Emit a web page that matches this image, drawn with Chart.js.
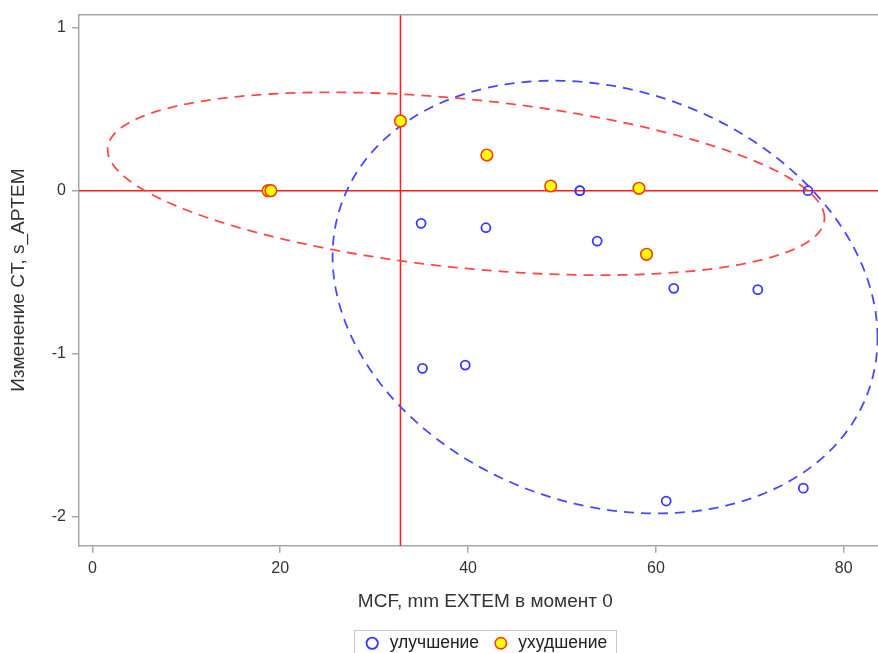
<!DOCTYPE html>
<html>
<head>
<meta charset="utf-8">
<script src="https://cdn.jsdelivr.net/npm/chart.js"></script>
<style>
  html, body { margin: 0; padding: 0; background: #fff; overflow: hidden; width: 878px; height: 653px; }
  /* the source plot is cut at the right window edge, so the canvas runs past it */
  #wrap { width: 899px; height: 653px; position: relative; }
</style>
</head>
<body>
<div id="wrap"><canvas id="chart"></canvas></div>
<script>
// --- data ---
// улучшение (blue open circles); the point at (51.9, 0) is doubled
const improveX = [35.0, 41.9, 51.9, 51.9, 53.75, 61.9, 70.85, 76.2, 35.15, 39.7, 61.1, 75.7];
const improveY = [-0.20, -0.227, 0, 0, -0.309, -0.599, -0.607, 0, -1.09, -1.07, -1.904, -1.825];
// ухудшение (yellow filled circles)
const worsenX = [18.7, 19.0, 32.8, 42.0, 48.8, 58.2, 59.0];
const worsenY = [0, 0, 0.428, 0.219, 0.029, 0.015, -0.39];

const xTicks = [0, 20, 40, 60, 80];
const yTicks = [-2, -1, 0, 1];
const refX = 32.8;   // vertical reference line
const refY = 0;      // horizontal reference line
const ellipseAlpha = 0.25;  // prediction ellipse level

Chart.defaults.font.family = '"Liberation Sans", Arial, sans-serif';
Chart.defaults.color = '#333';

function zip(xs, ys) {
  return xs.map((x, i) => ({ x: x, y: ys[i] }));
}

// prediction ellipse of a group, from its own mean and covariance
function predEllipse(xs, ys, alpha, steps) {
  const n = xs.length;
  const mx = xs.reduce((a, b) => a + b, 0) / n;
  const my = ys.reduce((a, b) => a + b, 0) / n;
  let sxx = 0, syy = 0, sxy = 0;
  for (let i = 0; i < n; i++) {
    const dx = xs[i] - mx, dy = ys[i] - my;
    sxx += dx * dx; syy += dy * dy; sxy += dx * dy;
  }
  sxx /= n - 1; syy /= n - 1; sxy /= n - 1;
  const d2 = n - 2;
  const f = d2 / 2 * (Math.pow(alpha, -2 / d2) - 1);   // F(2, n-2) quantile
  const c = Math.sqrt(2 * (n + 1) * (n - 1) / (n * (n - 2)) * f);
  const sx = Math.sqrt(sxx), sy = Math.sqrt(syy), r = sxy / (sx * sy);
  const pts = [];
  for (let k = 0; k <= steps; k++) {
    const t = 2 * Math.PI * k / steps;
    pts.push({
      x: mx + c * sx * Math.cos(t),
      y: my + c * sy * (r * Math.cos(t) + Math.sqrt(1 - r * r) * Math.sin(t))
    });
  }
  return pts;
}

const axisGray = '#a3a7ab';

const refLines = {
  id: 'refLines',
  afterUpdate(chart) {
    // centre the legend under the plot area, as in the source
    const lg = chart.legend;
    const a = chart.chartArea;
    const shift = (a.left + a.right) / 2 - (lg.left + lg.right) / 2;
    lg.left += shift; lg.right += shift;
    lg.legendHitBoxes.forEach(h => { h.left += shift; });
  },
  beforeDatasetsDraw(chart) {
    const { ctx, chartArea: a, scales } = chart;
    const px = scales.x.getPixelForValue(refX);
    const py = scales.y.getPixelForValue(refY);
    ctx.save();
    ctx.strokeStyle = '#ff1c1c';
    ctx.lineWidth = 1.5;
    ctx.beginPath();
    ctx.moveTo(px, a.top); ctx.lineTo(px, a.bottom);
    ctx.moveTo(a.left, py); ctx.lineTo(a.right, py);
    ctx.stroke();
    ctx.restore();
  },
  afterDraw(chart) {
    const { ctx, chartArea: a } = chart;
    ctx.save();
    ctx.strokeStyle = axisGray;
    ctx.lineWidth = 1.5;
    ctx.beginPath();
    ctx.moveTo(a.left, a.top); ctx.lineTo(a.right, a.top);
    ctx.stroke();
    // frame round the legend
    const hb = chart.legend.legendHitBoxes;
    const l = hb[0].left - 9, r = hb[hb.length - 1].left + hb[hb.length - 1].width + 9;
    ctx.strokeStyle = '#c4c7ca';
    ctx.lineWidth = 1;
    ctx.strokeRect(Math.round(l) + 0.5, Math.round(hb[0].top) - 4.5, Math.round(r - l), hb[0].height + 14);
    ctx.restore();
  }
};

new Chart(document.getElementById('chart'), {
  type: 'scatter',
  data: {
    datasets: [
      {
        label: 'улучшение',
        data: zip(improveX, improveY),
        pointStyle: 'circle',
        pointRadius: 4.5,
        borderWidth: 1.8,
        borderColor: '#3a3aff',
        backgroundColor: 'rgba(255,255,255,0)',
        order: 0
      },
      {
        label: 'ухудшение',
        data: zip(worsenX, worsenY),
        pointStyle: 'circle',
        pointRadius: 5.8,
        borderWidth: 1.6,
        borderColor: '#f0420f',
        backgroundColor: '#ffff00',
        order: 0
      },
      {
        label: 'ellipse-improve',
        data: predEllipse(improveX, improveY, ellipseAlpha, 240),
        showLine: true,
        pointRadius: 0,
        borderColor: '#4848ff',
        borderWidth: 1.8,
        borderDash: [10, 7],
        fill: false,
        order: 1
      },
      {
        label: 'ellipse-worsen',
        data: predEllipse(worsenX, worsenY, ellipseAlpha, 240),
        showLine: true,
        pointRadius: 0,
        borderColor: '#ff4848',
        borderWidth: 1.8,
        borderDash: [10, 7],
        fill: false,
        order: 1
      }
    ]
  },
  options: {
    responsive: true,
    maintainAspectRatio: false,
    animation: false,
    layout: { padding: { top: 14.7, left: 0, right: 0, bottom: -9 } },
    plugins: {
      tooltip: { enabled: false },
      legend: {
        position: 'bottom',
        labels: {
          usePointStyle: true,
          boxHeight: 8,
          padding: 13,
          font: { size: 17.5 },
          color: '#222',
          filter: item => item.datasetIndex < 2
        }
      }
    },
    scales: {
      x: {
        type: 'linear',
        min: -1.43,
        max: 85.1,
        afterBuildTicks: s => { s.ticks = xTicks.map(v => ({ value: v })); },
        afterFit: s => { s.height = 75.8; s.paddingLeft = 0; s.paddingRight = 0; },
        grid: { drawOnChartArea: false, tickLength: 7, color: axisGray, lineWidth: 1.5 },
        border: { color: axisGray, width: 1.5 },
        ticks: { font: { size: 16 }, color: '#333', padding: 6 },
        title: {
          display: true,
          text: 'MCF, mm EXTEM в момент 0',
          font: { size: 19 },
          color: '#333',
          padding: { top: 0, bottom: 8 }
        }
      },
      y: {
        type: 'linear',
        min: -2.178,
        max: 1.08,
        afterBuildTicks: s => { s.ticks = yTicks.map(v => ({ value: v })); },
        afterFit: s => { s.width = 79; s.paddingTop = 0; s.paddingBottom = 0; },
        grid: { drawOnChartArea: false, tickLength: 7, color: axisGray, lineWidth: 1.5 },
        border: { color: axisGray, width: 1.5 },
        ticks: { font: { size: 16 }, color: '#333', padding: 6 },
        title: {
          display: true,
          text: 'Изменение CT, s_APTEM',
          font: { size: 19 },
          color: '#333',
          padding: { top: 7, bottom: 4 }
        }
      }
    }
  },
  plugins: [refLines]
});
</script>
</body>
</html>
